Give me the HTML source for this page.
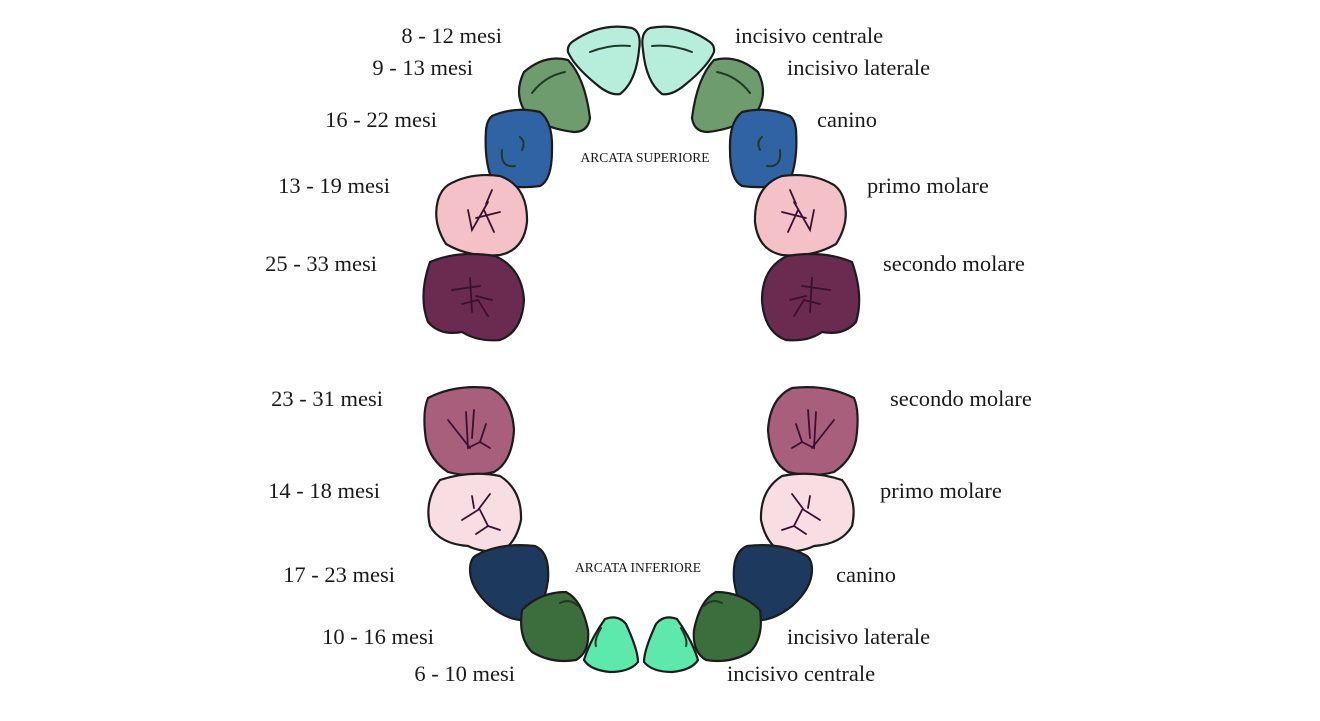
<!DOCTYPE html>
<html><head><meta charset="utf-8"><style>
html,body{margin:0;padding:0;background:#fff;}
svg{display:block}
text{font-family:"Liberation Serif",serif;fill:#1a1a1a}
.l{font-size:22.5px;text-anchor:end}
.r{font-size:22.5px}
.t{stroke:#1c1c1c;stroke-width:2.2}
.d{fill:none;stroke:#3a1030;stroke-width:1.8;stroke-linecap:round}
.g{fill:none;stroke:#1f3a25;stroke-width:2;stroke-linecap:round}
</style></head><body>
<svg width="1320" height="721" viewBox="0 0 1320 721">
<!-- labels left -->
<text class="l" x="502" y="43">8 - 12 mesi</text>
<text class="l" x="473" y="75">9 - 13 mesi</text>
<text class="l" x="437" y="127">16 - 22 mesi</text>
<text class="l" x="390" y="193">13 - 19 mesi</text>
<text class="l" x="377" y="271">25 - 33 mesi</text>
<text class="l" x="383" y="406">23 - 31 mesi</text>
<text class="l" x="380" y="498">14 - 18 mesi</text>
<text class="l" x="395" y="582">17 - 23 mesi</text>
<text class="l" x="434" y="644">10 - 16 mesi</text>
<text class="l" x="515" y="681">6 - 10 mesi</text>
<!-- labels right -->
<text class="r" x="735" y="43">incisivo centrale</text>
<text class="r" x="787" y="75">incisivo laterale</text>
<text class="r" x="817" y="127">canino</text>
<text class="r" x="867" y="193">primo molare</text>
<text class="r" x="883" y="271">secondo molare</text>
<text class="r" x="890" y="406">secondo molare</text>
<text class="r" x="880" y="498">primo molare</text>
<text class="r" x="836" y="582">canino</text>
<text class="r" x="787" y="644">incisivo laterale</text>
<text class="r" x="727" y="681">incisivo centrale</text>
<text x="645" y="162" font-size="13.5" text-anchor="middle" fill="#333">ARCATA SUPERIORE</text>
<text x="638" y="572" font-size="13.5" text-anchor="middle" fill="#333">ARCATA INFERIORE</text>

<!-- upper -->
<path class="t" fill="#b6eedb" d="M572,42 Q600,22 632,28 Q642,32 639,50 Q636,82 620,94 Q610,96 596,84 Q574,66 568,52 Q567,46 572,42Z"/>
<path class="t" fill="#b6eedb" d="M710,42 Q682,22 650,28 Q640,32 643,50 Q646,82 662,94 Q672,96 686,84 Q708,66 714,52 Q715,46 710,42Z"/>
<path class="g" d="M590,52 Q610,44 630,46"/><path class="g" d="M692,52 Q672,44 652,46"/>
<path class="t" fill="#6e9c6e" d="M524,72 Q545,54 568,60 Q585,78 590,118 Q588,132 574,132 Q540,128 524,110 Q514,92 524,72Z"/>
<path class="t" fill="#6e9c6e" d="M758,72 Q737,54 714,60 Q697,78 692,118 Q694,132 708,132 Q742,128 758,110 Q768,92 758,72Z"/>
<path class="g" d="M532,93 Q545,76 565,72"/><path class="g" d="M750,93 Q737,76 717,72"/>
<path class="t" fill="#2f63a3" d="M492,116 Q515,106 540,112 Q553,122 552,150 Q552,180 540,186 Q510,190 492,180 Q484,160 486,130 Q487,120 492,116Z"/>
<path class="t" fill="#2f63a3" d="M790,116 Q767,106 742,112 Q729,122 730,150 Q730,180 742,186 Q772,190 790,180 Q798,160 796,130 Q795,120 790,116Z"/>
<path class="g" d="M502,150 Q500,168 515,166"/><path class="g" d="M520,137 Q526,142 522,150"/>
<path class="g" d="M780,150 Q782,168 767,166"/><path class="g" d="M762,137 Q756,142 760,150"/>
<path class="t" fill="#f4c1c9" d="M448,185 Q470,172 500,176 Q528,186 527,222 Q524,250 500,255 Q470,258 446,244 Q432,222 438,200 Q441,190 448,185Z"/>
<path class="t" fill="#f4c1c9" d="M834,185 Q812,172 782,176 Q754,186 755,222 Q758,250 782,255 Q812,258 836,244 Q850,222 844,200 Q841,190 834,185Z"/>
<path class="d" d="M468,210 L472,230 L488,202 M476,218 L500,212 M484,210 L494,232 M486,204 L492,190"/>
<path class="d" d="M814,210 L810,230 L794,202 M806,218 L782,212 M798,210 L788,232 M796,204 L790,190"/>
<path class="t" fill="#6b2a4f" d="M430,262 Q458,250 495,256 Q522,268 524,300 Q522,332 500,340 Q478,342 462,332 Q440,336 428,322 Q418,296 430,262Z"/>
<path class="t" fill="#6b2a4f" d="M852,262 Q824,250 787,256 Q762,268 762,300 Q764,332 786,340 Q808,342 822,332 Q844,336 856,322 Q864,296 852,262Z"/>
<path class="d" d="M452,290 L480,286 M470,278 L472,312 M476,296 L492,300 M462,304 L478,300 L488,316"/>
<path class="d" d="M830,290 L802,286 M812,278 L810,312 M806,296 L790,300 M820,304 L804,300 L794,316"/>
<!-- lower -->
<path class="t" fill="#a85f7c" d="M428,398 Q455,384 490,388 Q512,398 514,430 Q512,462 494,472 Q470,478 448,472 Q430,460 426,440 Q422,412 428,398Z"/>
<path class="t" fill="#a85f7c" d="M854,398 Q827,384 792,388 Q770,398 768,430 Q770,462 788,472 Q812,478 834,472 Q852,460 856,440 Q860,412 854,398Z"/>
<path class="d" d="M448,420 L470,448 M466,412 L468,448 L480,442 M474,410 L472,438 M486,424 L480,442 L490,448"/>
<path class="d" d="M834,420 L812,448 M816,412 L814,448 L802,442 M808,410 L810,438 M796,424 L802,442 L792,448"/>
<path class="t" fill="#f8dde2" d="M440,480 Q470,470 500,476 Q522,490 521,520 Q516,544 500,552 Q480,552 468,546 Q440,544 430,526 Q424,500 440,480Z"/>
<path class="t" fill="#f8dde2" d="M842,480 Q812,470 782,476 Q760,490 761,520 Q766,544 782,552 Q802,552 814,546 Q842,544 852,526 Q858,500 842,480Z"/>
<path class="d" d="M462,520 L478,510 L490,494 M480,510 L488,526 L476,534 M472,496 L474,508 M488,526 L500,530"/>
<path class="d" d="M820,520 L804,510 L792,494 M802,510 L794,526 L806,534 M810,496 L808,508 M794,526 L782,530"/>
<path class="t" fill="#1d3a5e" d="M475,556 Q500,542 535,546 Q550,552 548,580 Q544,610 528,620 Q510,622 490,606 Q470,588 470,570 Q470,560 475,556Z"/>
<path class="t" fill="#1d3a5e" d="M807,556 Q782,542 747,546 Q732,552 734,580 Q738,610 754,620 Q772,622 792,606 Q812,588 812,570 Q812,560 807,556Z"/>
<path class="t" fill="#3b6d3d" d="M522,610 Q540,592 566,592 Q582,600 588,630 Q590,652 576,660 Q552,664 532,652 Q518,638 522,610Z"/>
<path class="t" fill="#3b6d3d" d="M760,610 Q742,592 716,592 Q700,600 694,630 Q692,652 706,660 Q730,664 750,652 Q764,638 760,610Z"/>
<path class="g" d="M560,603 Q570,598 578,606"/><path class="g" d="M722,603 Q712,598 704,606"/>
<path class="t" fill="#5de9ac" d="M605,619 Q618,614 626,624 Q638,650 638,662 Q630,672 610,672 Q590,670 584,660 Q590,640 605,619Z"/>
<path class="t" fill="#5de9ac" d="M677,619 Q664,614 656,624 Q644,650 644,662 Q652,672 672,672 Q692,670 698,660 Q692,640 677,619Z"/>
<path class="g" d="M601,628 Q594,640 596,646"/><path class="g" d="M681,628 Q688,640 686,646"/>
</svg>
</body></html>
